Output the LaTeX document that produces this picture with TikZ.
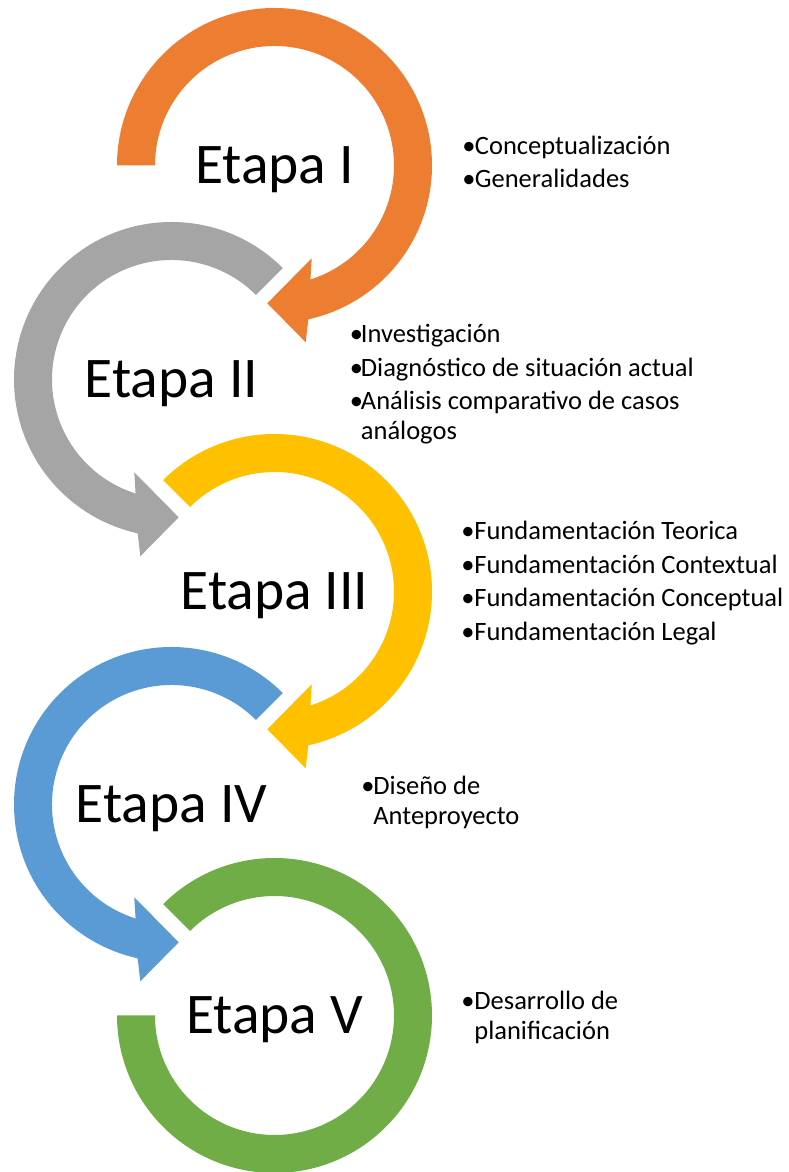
\documentclass[tikz,border=0pt]{standalone}
\usepackage{fontspec}
\setmainfont{Carlito}
\usepackage{tikz}
\usetikzlibrary{positioning}
\usepackage{xcolor}

\definecolor{naranja}{HTML}{ED7D31}
\definecolor{gris}{HTML}{A5A5A5}
\definecolor{amarillo}{HTML}{FFC000}
\definecolor{azul}{HTML}{5B9BD5}
\definecolor{verde}{HTML}{70AD47}

\newcommand{\punto}[1]{\par\hangindent=#1\hangafter=1\noindent\makebox[#1][l]{•}}
\newcommand{\lista}[1]{\parbox[t]{420pt}{\raggedright\fontsize{26.5}{30}\selectfont\setlength{\parskip}{3.4pt}#1}}

\tikzset{
  pics/ciclo/.style={code={
    \fill[pic actions] (#1:157.5) arc[start angle=#1, end angle=-77.6, radius=157.5]
      -- (31.2,-176.8) -- (-7.2,-137.8) -- (37.2,-92.8)
      -- (-72.5:119.5) arc[start angle=-72.5, end angle=#1, radius=119.5] -- cycle;
  }},
  pics/anillo/.style={code={
    \fill[pic actions] (#1:157.5) arc[start angle=#1, end angle=-180, radius=157.5]
      -- (180:119.5) arc[start angle=-180, end angle=#1, radius=119.5] -- cycle;
  }},
  etapa/.style={font=\fontsize{57.5}{62}\selectfont, anchor=base, inner sep=0pt},
  lista/.style={anchor=base west, inner sep=0pt}
}

\begin{document}
\begin{tikzpicture}[x=1pt, y=1pt]
	\useasboundingbox (0,0) rectangle (789,1172);

	% centros de los ciclos
	\coordinate (c1) at (274.5,1006.5);
	\coordinate (c2) at (171.5, 792.5);
	\coordinate (c3) at (274.5, 580.5);
	\coordinate (c4) at (171.5, 367.5);
	\coordinate (c5) at (274.5, 156.5);

	\pic [fill=naranja] at (c1) {ciclo=180};
	\pic [fill=gris, xscale=-1] at (c2) {ciclo=135};
	\pic [fill=amarillo] at (c3) {ciclo=135};
	\pic [fill=azul, xscale=-1] at (c4) {ciclo=135};
	\pic [fill=verde] at (c5) {anillo=135};

	\node [etapa] (e1) at ([yshift=-18pt]c1) {Etapa I};
	\node [etapa] (e2) at ([yshift=-18pt]c2) {Etapa II};
	\node [etapa] (e3) at ([yshift=-18pt]c3) {Etapa III};
	\node [etapa] (e4) at ([yshift=-18pt]c4) {Etapa IV};
	\node [etapa] (e5) at ([yshift=-18pt]c5) {Etapa V};

	% listas
	\node [lista] (l1) at (462.2,1017.7) {\lista{\punto{12.5pt}Conceptualización
		\punto{12.5pt}Generalidades}};
	\node [lista] (l2) at (349.7, 829) {\lista{\punto{11pt}Investigación
		\punto{11pt}Diagnóstico de situación actual
		\punto{11pt}Análisis comparativo de casos\newline análogos}};
	\node [lista] (l3) at (461.2, 632) {\lista{\punto{13pt}Fundamentación Teorica
		\punto{13pt}Fundamentación Contextual
		\punto{13pt}Fundamentación Conceptual
		\punto{13pt}Fundamentación Legal}};
	\node [lista] (l4) at (361.2, 377) {\lista{\punto{12pt}Diseño de\newline Anteproyecto}};
	\node [lista] (l5) at (461.2, 162) {\lista{\punto{13pt}Desarrollo de\newline planificación}};

\end{tikzpicture}
\end{document}
